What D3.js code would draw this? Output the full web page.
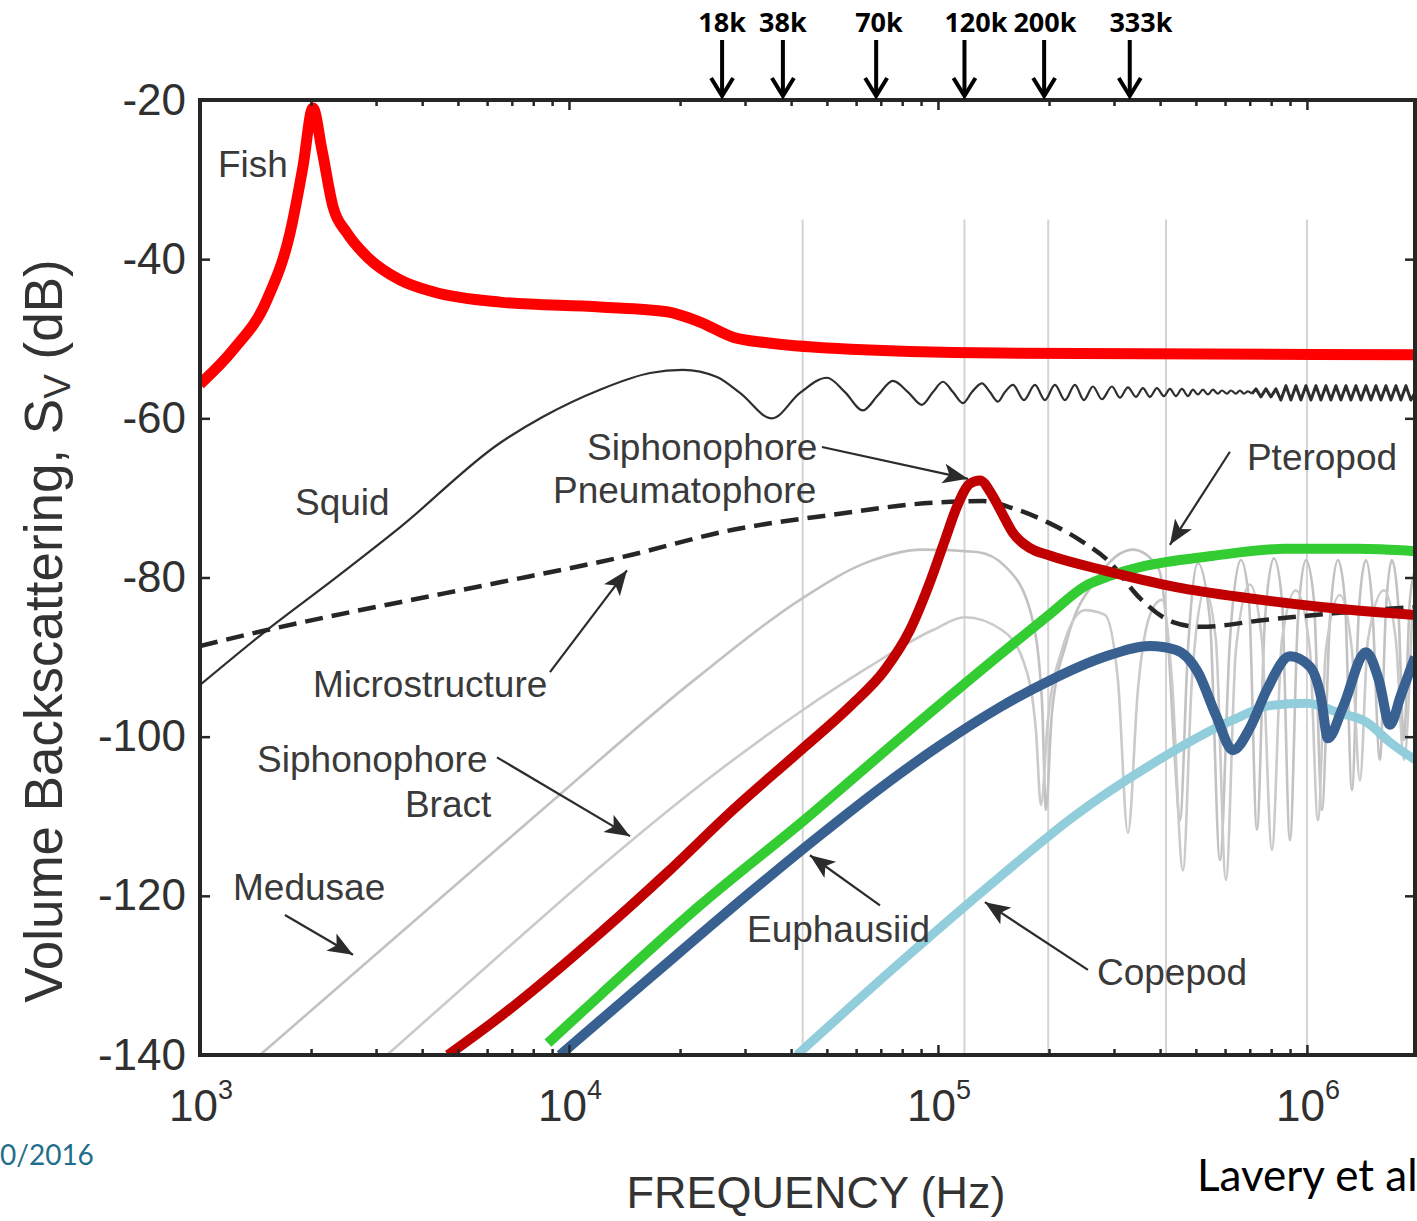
<!DOCTYPE html>
<html lang="en">
<head>
<meta charset="UTF-8">
<title>Volume backscattering vs frequency</title>
<script src="https://cdn.jsdelivr.net/npm/d3@7"></script>
<style>
  body { margin: 0; background: #fff; }
  svg text { font-family: "Liberation Sans", Arial, sans-serif; }
</style>
</head>
<body>
<div id="chart"></div>
<script>
// ---- data: [frequency (Hz), Sv (dB)] ----
var fish = [[1000,-55.7],[1229,-51.4],[1519,-45.1],[1754,-36.7],[1901,-28.4],[2023,-21.0],[2141,-26.3],[2293,-33.4],[2502,-36.7],[2836,-39.7],[3483,-42.6],[4280,-44.1],[6501,-45.4],[12134,-46.0],[18440,-46.6],[22650,-47.9],[27830,-49.8],[34420,-50.5],[51930,-51.2],[147200,-51.8],[1963000,-52.0]];

var squid = [[1000,-93.5],[1519,-86.6],[2293,-80.3],[3483,-73.7],[6501,-63.1],[8502,-59.8],[12134,-56.4],[16580,-54.3],[20370,-53.9],[25185,-54.8],[29068,-56.8],[35493,-60.0],[42270,-56.8],[50027,-54.9],[55975,-56.7],[62630,-59.0],[68770,-57.1],[75520,-55.3],[82930,-56.7],[90494,-58.3],[96923,-56.7],[103164,-55.4],[109808,-56.7],[116878,-58.1],[123627,-56.7],[131588,-55.6],[138322,-56.7],[145404,-57.9],[151898,-56.7],[159673,-55.8],[171018,-57.7],[183163,-55.8],[194960,-57.7],[207516,-55.8],[220880,-57.7],[235099,-55.8],[248679,-57.7],[263042,-56.0],[278241,-57.6],[296161,-56.0],[311326,-57.4],[327243,-56.1],[343994,-57.3],[359352,-56.2],[375400,-57.3],[392166,-56.2],[409674,-57.2],[425313,-56.3],[441523,-57.2],[458376,-56.3],[475857,-57.2],[490935,-56.4],[506502,-57.0],[522553,-56.4],[539118,-57.0],[556202,-56.4],[573822,-56.9],[588333,-56.5],[607014,-56.9],[622352,-56.5],[642079,-56.9],[658305,-56.5],[674944,-56.9],[692000,-56.6],[709500,-56.9]];

var squidDense = [[709500,-56.9],[727438,-56.3],[750491,-57.3],[774274,-56.3],[798820,-57.3],[824128,-56.3],[850172,-57.7],[877119,-55.9],[904914,-57.7],[933598,-55.9],[963192,-57.7],[993727,-55.9],[1025218,-57.7],[1057706,-55.9],[1091237,-57.7],[1125811,-55.9],[1161481,-57.7],[1198295,-55.9],[1236268,-57.7],[1275457,-55.9],[1315886,-57.7],[1357602,-55.9],[1400625,-57.7],[1445009,-55.9],[1490817,-57.7],[1538051,-55.9],[1586744,-57.7],[1637039,-55.9],[1688915,-57.7],[1742451,-55.9],[1797683,-57.7],[1854673,-55.9],[1913449,-57.7],[1963000,-56.8]];

var microstructure = [[1000,-88.6],[1519,-86.6],[2293,-84.8],[3483,-83.1],[6501,-80.6],[14007,-77.4],[27826,-74.0],[51938,-72.1],[96923,-70.6],[132410,-70.4],[159673,-71.3],[201140,-73.2],[242543,-75.3],[292487,-78.1],[352687,-82.6],[433338,-85.6],[512860,-86.2],[779122,-85.3],[1176074,-84.5],[1963000,-83.7]];

var medusae = [[1454,-140],[7988,-110.2],[22650,-92.3],[42270,-82.8],[64208,-78.1],[90494,-76.5],[127545,-76.8],[152849,-78.7],[178650,-84.5],[191345,-95.4],[196180,-109.2],[203666,-97.0],[223652,-87.9],[268016,-80.3],[337614,-76.5],[394617,-78.7],[420028,-87.9],[438781,-102.9],[452673,-110.5],[475857,-89.1],[506502,-78.2],[545890,-85.3],[581048,-115.5],[618470,-87.9],[662425,-77.8],[696341,-82.8],[731993,-111.7],[769467,-85.3],[813912,-77.6],[855499,-82.8],[899286,-113.0],[945326,-85.3],[993727,-77.8],[1044592,-82.8],[1098062,-109.2],[1154233,-85.3],[1213351,-77.8],[1267520,-82.8],[1324125,-106.7],[1383248,-84.1],[1445009,-77.8],[1500138,-82.8],[1576843,-102.9],[1637039,-84.1],[1699486,-77.8],[1764339,-82.8],[1831663,-100.4],[1901551,-82.8],[1963000,-79.1]];

var bract = [[3212,-140],[6501,-127.4],[12134,-116.4],[22650,-106.1],[42270,-96.9],[64208,-91.4],[96923,-86.6],[118346,-85.0],[149079,-86.6],[171018,-90.7],[184312,-99.2],[190156,-108.6],[198646,-97.9],[216781,-89.1],[250232,-84.1],[283501,-84.7],[307458,-92.9],[327243,-112.1],[348315,-94.1],[375400,-84.7],[404591,-82.8],[430644,-92.9],[461238,-116.8],[487889,-92.9],[529118,-81.6],[566710,-87.9],[603244,-118.0],[642079,-89.1],[700700,-80.9],[755186,-87.9],[803815,-114.2],[855499,-87.9],[933598,-81.6],[1018848,-89.1],[1070992,-110.5],[1125811,-89.1],[1228579,-82.2],[1324125,-89.1],[1391916,-105.5],[1463159,-87.9],[1616742,-81.6],[1742451,-87.9],[1831663,-102.9],[1925418,-85.3]];

var pneumatophore = [[4700,-140],[6501,-135.2],[12134,-124.7],[18436,-117.1],[27826,-109.2],[42270,-101.8],[57750,-96.2],[71840,-91.6],[83971,-86.6],[95124,-80.6],[104458,-75.3],[112583,-71.1],[122099,-68.2],[129952,-67.8],[140061,-69.6],[149079,-71.9],[159673,-74.4],[177536,-76.3],[199890,-77.2],[281737,-79.1],[441523,-81.2],[696341,-82.6],[1091237,-83.7],[1963000,-84.7]];

var pteropod = [[8772,-138.5],[12134,-132.5],[22650,-121.2],[44157,-110.2],[78890,-100.2],[147230,-89.7],[201140,-84.6],[250232,-81.1],[292487,-79.8],[352687,-78.7],[552740,-77.3],[871656,-76.4],[1366106,-76.4],[1963000,-76.7]];

var euphausiid = [[9454,-140],[16580,-130.3],[30940,-119.6],[47890,-112.4],[69632,-106.5],[101249,-101.1],[147230,-96.3],[199890,-93.0],[281737,-90.0],[375400,-88.6],[441523,-89.1],[506502,-91.9],[566710,-97.3],[630171,-101.7],[700700,-98.9],[779122,-94.1],[899286,-89.9],[1018848,-91.2],[1091237,-95.0],[1139944,-100.2],[1251795,-96.3],[1445009,-89.4],[1567064,-92.9],[1678410,-98.5],[1797683,-94.8],[1963000,-90.0]];

var copepod = [[41485,-140],[78890,-128.4],[147230,-117.6],[232182,-110.1],[375400,-103.6],[630171,-97.9],[793865,-96.1],[999941,-95.8],[1220940,-97.0],[1454058,-98.2],[1678410,-100.7],[1963000,-102.9]];

// vertical grey reference lines [frequency]
var gridFreqs = [43000, 118000, 199000, 415000, 1000000];

// labels: [text, frequency, dB]
var curveLabels = [
  ['Fish', 1119, -29.7], ['Squid', 1809, -72.1], ['Siphonophore', 11189, -65.2],
  ['Pneumatophore', 9050, -70.6], ['Pteropod', 687700, -66.5],
  ['Microstructure', 2024, -95.0], ['Siphonophore', 1428, -104.4], ['Bract', 3593, -110.1],
  ['Medusae', 1229, -120.5], ['Euphausiid', 30366, -125.8], ['Copepod', 269693, -131.2]
];

// annotation arrows: [from f, from dB, to f, to dB]
var pointers = [
  [48490,-63.6,120582,-67.6], [8882,-91.9,14361,-79.1], [618470,-64.2,425313,-75.9],
  [6380,-102.6,14633,-112.5], [1699,-122.4,2598,-127.4], [69632,-121.2,44992,-114.9],
  [254965,-129.3,134072,-120.8]
];

// echosounder frequencies marked above the plot
var sounderLabels = ['18k', '38k', '70k', '120k', '200k', '333k'];
var sounderFreqs = [26000, 38000, 68000, 118000, 194000, 331000];
var sounderLabelFreqs = [26000, 38000, 69200, 126750, 195000, 354900];

var yTicks = [-140, -120, -100, -80, -60, -40, -20];
var xMajor = [1e3, 1e4, 1e5, 1e6];

// ---- layout ----
var W = 1417, H = 1221;
var margin = {top: 100, left: 200, right: 2, bottom: 166};

var x = d3.scaleLog().domain([1000, 1963000]).range([margin.left, W - margin.right]);
var y = d3.scaleLinear().domain([-140, -20]).range([H - margin.bottom, margin.top]);

var svg = d3.select('#chart').append('svg')
  .attr('width', W).attr('height', H)
  .style('background', '#fff');

var defs = svg.append('defs');
defs.append('clipPath').attr('id', 'plot-clip')
  .append('rect')
  .attr('x', x.range()[0]).attr('y', y.range()[1])
  .attr('width', x.range()[1] - x.range()[0])
  .attr('height', y.range()[0] - y.range()[1]);

defs.append('marker')
  .attr('id', 'head')
  .attr('markerUnits', 'userSpaceOnUse')
  .attr('markerWidth', 28).attr('markerHeight', 22)
  .attr('refX', 25).attr('refY', 10)
  .attr('orient', 'auto')
  .append('path')
  .attr('d', 'M0,0 L25,10 L0,20 L6,10 Z')
  .attr('fill', '#2b2b2b');

var plot = svg.append('g').attr('clip-path', 'url(#plot-clip)');

// grey vertical lines
plot.selectAll('.grid')
  .data(gridFreqs)
  .enter().append('line')
  .attr('class', 'grid')
  .attr('x1', function (d) { return x(d); })
  .attr('x2', function (d) { return x(d); })
  .attr('y1', y(-35))
  .attr('y2', y(-140))
  .attr('stroke', '#d4d4d4')
  .attr('stroke-width', 2);

var smooth = d3.line()
  .x(function (d) { return x(d[0]); })
  .y(function (d) { return y(d[1]); })
  .curve(d3.curveMonotoneX);

var straight = d3.line()
  .x(function (d) { return x(d[0]); })
  .y(function (d) { return y(d[1]); });

function drawCurve(data, gen, color, width, dash) {
  plot.append('path')
    .datum(data)
    .attr('d', gen)
    .attr('fill', 'none')
    .attr('stroke', color)
    .attr('stroke-width', width)
    .attr('stroke-linejoin', 'round')
    .attr('stroke-dasharray', dash || null);
}

drawCurve(medusae, smooth, '#c2c2c2', 2.6);
drawCurve(bract, smooth, '#cacaca', 2.6);
drawCurve(squid, smooth, '#2e2e2e', 2.2);
drawCurve(squidDense, straight, '#2e2e2e', 3);
drawCurve(microstructure, smooth, '#262626', 4.5, '18,9');
drawCurve(copepod, smooth, '#92cddc', 9);
drawCurve(euphausiid, smooth, '#386192', 10);
drawCurve(pteropod, smooth, '#33cc33', 10);
drawCurve(pneumatophore, smooth, '#c00000', 10);
drawCurve(fish, smooth, '#ff0000', 11);

// annotation arrows
svg.selectAll('.pointer')
  .data(pointers)
  .enter().append('line')
  .attr('class', 'pointer')
  .attr('x1', function (d) { return x(d[0]); })
  .attr('y1', function (d) { return y(d[1]); })
  .attr('x2', function (d) { return x(d[2]); })
  .attr('y2', function (d) { return y(d[3]); })
  .attr('stroke', '#2b2b2b')
  .attr('stroke-width', 2.2)
  .attr('marker-end', 'url(#head)');

svg.selectAll('.curve-label')
  .data(curveLabels)
  .enter().append('text')
  .attr('class', 'curve-label')
  .attr('x', function (d) { return x(d[1]); })
  .attr('y', function (d) { return y(d[2]); })
  .style('font-size', '37px')
  .style('fill', '#3a3a3a')
  .text(function (d) { return d[0]; });

// frame
svg.append('rect')
  .attr('x', x.range()[0]).attr('y', y.range()[1])
  .attr('width', x.range()[1] - x.range()[0])
  .attr('height', y.range()[0] - y.range()[1])
  .attr('fill', 'none')
  .attr('stroke', '#262626')
  .attr('stroke-width', 4);

// axes ticks
var minor = x.ticks().filter(function (d) { return xMajor.indexOf(d) < 0; });

function styleAxis(g) {
  g.select('.domain').remove();
  g.selectAll('.tick line').attr('stroke', '#262626').attr('stroke-width', 2.5);
}

svg.append('g')
  .attr('transform', 'translate(0,' + y(-140) + ')')
  .call(d3.axisBottom(x).tickValues(minor).tickSize(-6).tickFormat(''))
  .call(styleAxis);
svg.append('g')
  .attr('transform', 'translate(0,' + y(-140) + ')')
  .call(d3.axisBottom(x).tickValues(xMajor).tickSize(-10).tickFormat(''))
  .call(styleAxis);
svg.append('g')
  .attr('transform', 'translate(0,' + y(-20) + ')')
  .call(d3.axisTop(x).tickValues(minor).tickSize(-6).tickFormat(''))
  .call(styleAxis);
svg.append('g')
  .attr('transform', 'translate(0,' + y(-20) + ')')
  .call(d3.axisTop(x).tickValues(xMajor).tickSize(-10).tickFormat(''))
  .call(styleAxis);

var gy = svg.append('g')
  .attr('transform', 'translate(' + x(1000) + ',0)')
  .call(d3.axisLeft(y).tickValues(yTicks).tickSize(-10).tickPadding(14)
    .tickFormat(function (d) { return String(d); }))
  .call(styleAxis);
gy.selectAll('.tick text')
  .style('font-size', '44px')
  .style('font-family', '"Liberation Sans", Arial, sans-serif')
  .attr('fill', '#303030');

svg.append('g')
  .attr('transform', 'translate(' + x(1963000) + ',0)')
  .call(d3.axisRight(y).tickValues(yTicks).tickSize(-10).tickFormat(''))
  .call(styleAxis);

// x tick labels 10^n
var xl = svg.selectAll('.xlab')
  .data(xMajor)
  .enter().append('text')
  .attr('class', 'xlab')
  .attr('x', function (d) { return x(d) + 1; })
  .attr('y', y(-140) + 66)
  .attr('text-anchor', 'middle')
  .style('font-size', '44px')
  .style('fill', '#303030');
xl.append('tspan').text('10');
xl.append('tspan')
  .attr('dy', -22)
  .style('font-size', '27px')
  .text(function (d) { return Math.round(Math.log10(d)); });

// axis titles
svg.append('text')
  .attr('x', 816).attr('y', 1208)
  .attr('text-anchor', 'middle')
  .style('font-size', '45px')
  .style('fill', '#333')
  .text('FREQUENCY (Hz)');

var yt = svg.append('text')
  .attr('transform', 'translate(62,631) rotate(-90)')
  .attr('text-anchor', 'middle')
  .style('font-size', '53px')
  .style('fill', '#333');
yt.append('tspan').text('Volume Backscattering, S');
yt.append('tspan').attr('dy', 8).style('font-size', '37px').text('V');
yt.append('tspan').attr('dy', -8).text(' (dB)');

// echosounder arrows above the frame
var snd = svg.selectAll('.sounder')
  .data(sounderFreqs)
  .enter().append('g')
  .attr('class', 'sounder')
  .attr('transform', function (d) { return 'translate(' + x(d) + ',0)'; });
snd.append('line')
  .attr('x1', 0).attr('x2', 0).attr('y1', 40).attr('y2', 96)
  .attr('stroke', '#000').attr('stroke-width', 4);
snd.append('path')
  .attr('d', 'M-11,78 L0,96 L11,78')
  .attr('fill', 'none').attr('stroke', '#000').attr('stroke-width', 4);

svg.selectAll('.sounder-label')
  .data(sounderLabels)
  .enter().append('text')
  .attr('class', 'sounder-label')
  .attr('x', function (d, i) { return x(sounderLabelFreqs[i]); })
  .attr('y', 32)
  .attr('text-anchor', 'middle')
  .style('font-family', '"Open Sans", sans-serif')
  .style('font-weight', 'bold')
  .style('font-size', '27px')
  .text(function (d) { return d; });

// slide footer texts
svg.append('text')
  .attr('x', 0).attr('y', 1165)
  .style('font-family', 'Lato, sans-serif')
  .style('font-size', '28px')
  .style('fill', '#1f6e8c')
  .text('0/2016');

svg.append('text')
  .attr('x', 1197).attr('y', 1191)
  .style('font-family', 'Lato, sans-serif')
  .style('font-size', '44px')
  .style('fill', '#000')
  .text('Lavery et al');
</script>
</body>
</html>
